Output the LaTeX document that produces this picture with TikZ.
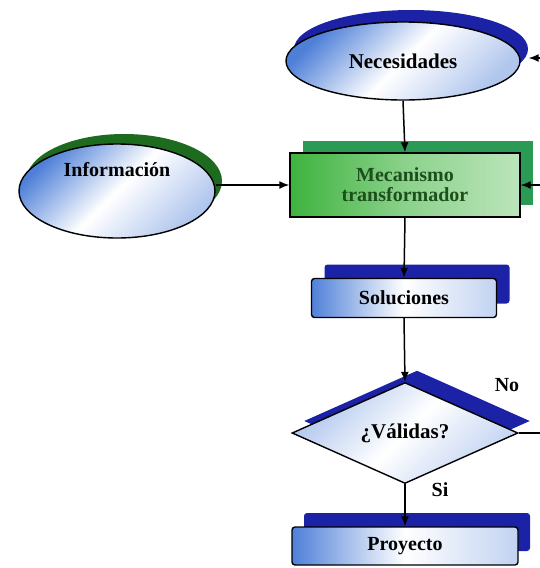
\documentclass[tikz,border=0pt]{standalone}
\usepackage{fontspec}
\setmainfont{Liberation Serif}
\usetikzlibrary{positioning,shapes.geometric,arrows.meta,shadows}

\definecolor{azul}{HTML}{4F80D8}
\definecolor{sombraazul}{HTML}{1B22A6}
\definecolor{verde}{HTML}{3EB33E}
\definecolor{sombraverde}{HTML}{2A9A55}
\definecolor{verdeosc}{HTML}{1E6A1E}
\definecolor{textoverde}{HTML}{1C4F1C}

\tikzset{
  texto/.style={font=\fontsize{20}{23}\selectfont\bfseries},
  sombra/.style n args={3}{general shadow={shadow xshift=#1, shadow yshift=#2, fill=#3}},
  elipse/.style={ellipse, draw=black, line width=1.4pt, texto, inner sep=0pt,
    top color=azul, bottom color=azul!45, middle color=white, shading angle=45},
  caja/.style={rectangle, draw=black, line width=1.4pt, texto, rounded corners=3pt,
    left color=azul, right color=azul!35, middle color=white},
  flecha/.style={-{Latex[length=10pt,width=8pt]}, line width=1.5pt},
  linea/.style={line width=1.5pt}
}

\begin{document}
\begin{tikzpicture}[x=1pt,y=-1pt]
\useasboundingbox (0,0) rectangle (540,568);

\node[elipse, minimum width=234pt, minimum height=78pt, font=\fontsize{21}{24}\selectfont\bfseries,
  sombra={8pt}{12pt}{sombraazul}] (nec) at (403,61) {Necesidades};
\node[elipse, minimum width=196pt, minimum height=94pt, text depth=43pt, sombra={7pt}{10pt}{verdeosc}] (info) at (117,191) {Información};
\node[rectangle, draw=black, line width=1.4pt, texto, text=textoverde, align=center,
  left color=verde, right color=verde!35, middle color=verde!60,
  minimum width=230pt, minimum height=64pt, inner sep=0pt,
  sombra={13pt}{12pt}{sombraverde}] (mec) at (405,185) {Mecanismo\\[-3pt]transformador};
\node[caja, minimum width=185pt, minimum height=39pt, sombra={13pt}{14pt}{sombraazul}] (sol) at (404,298) {Soluciones};
\node[diamond, draw=black, line width=1.4pt, texto, inner sep=0pt, aspect=2.2,
  minimum width=226pt, minimum height=101pt, font=\fontsize{21}{24}\selectfont\bfseries,
  top color=azul!45, bottom color=azul!35, middle color=white, shading angle=45,
  sombra={12pt}{12pt}{sombraazul}] (val) at (405,433) {¿Válidas?};
\node[caja, minimum width=226pt, minimum height=38pt, sombra={12pt}{14pt}{sombraazul}] (pro) at (405,546) {Proyecto};

\node[texto] (no) at (507,385) {No};
\node[texto] (si) at (440,490) {Si};

\coordinate (necR) at (540,58);
\coordinate (mecR) at (540,185);
\coordinate (valR) at (540,433);

\draw[flecha] (necR) -- ([xshift=8pt]nec.east |- necR);
\draw[flecha] (nec.south) -- (mec.north);
\draw[flecha] (info.east |- mec.west) -- (mec.west);
\draw[flecha] (mecR) -- (mec.east);
\draw[flecha] (mec.south) -- (sol.north);
\draw[flecha] (sol.south) -- (val.north);
\draw[linea] (val.east) -- (valR);
\draw[flecha] (val.south) -- (pro.north);
\end{tikzpicture}
\end{document}
